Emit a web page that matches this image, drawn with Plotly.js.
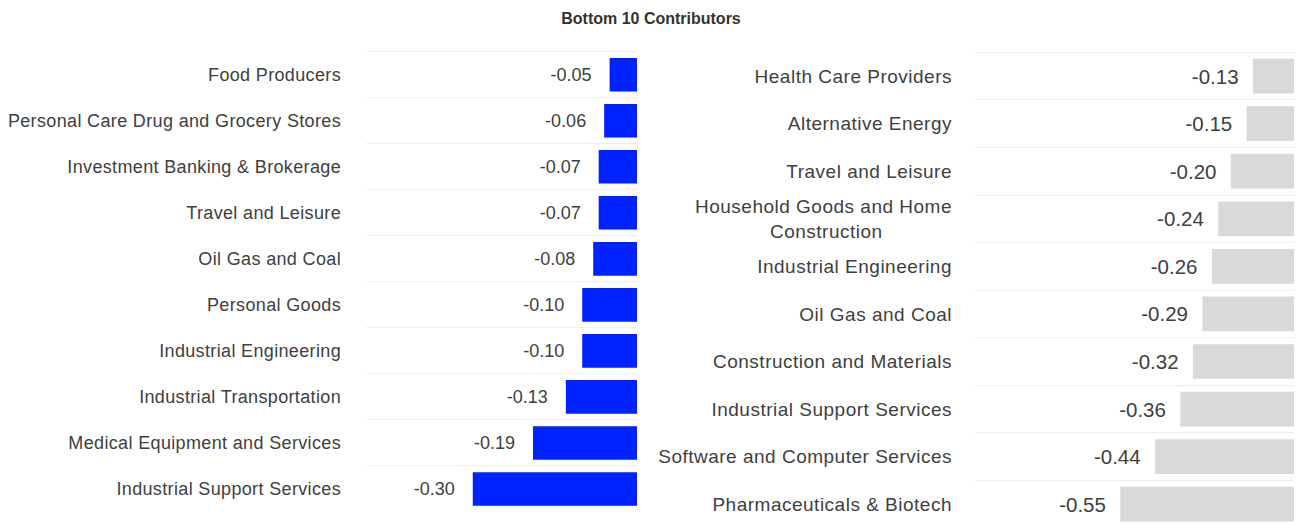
<!DOCTYPE html>
<html>
<head>
<meta charset="utf-8">
<script src="https://cdn.plot.ly/plotly-3.0.1.min.js"></script>
<style>
html,body{margin:0;padding:0;background:#fff;}
#chart{width:1302px;height:523px;}
#chart g.ytick text{letter-spacing:0.35px;}
#chart g.y2tick text{letter-spacing:0.5px;}
</style>
</head>
<body>
<div id="chart"></div>
<script>
const chartTitle = 'Bottom 10 Contributors';

const leftCategories = [
  'Food Producers',
  'Personal Care Drug and Grocery Stores',
  'Investment Banking & Brokerage',
  'Travel and Leisure',
  'Oil Gas and Coal',
  'Personal Goods',
  'Industrial Engineering',
  'Industrial Transportation',
  'Medical Equipment and Services',
  'Industrial Support Services'
];
const leftValues = [-0.05, -0.06, -0.07, -0.07, -0.08, -0.10, -0.10, -0.13, -0.19, -0.30];

const rightCategories = [
  'Health Care Providers',
  'Alternative Energy',
  'Travel and Leisure',
  'Household Goods and Home<br>Construction',
  'Industrial Engineering',
  'Oil Gas and Coal',
  'Construction and Materials',
  'Industrial Support Services',
  'Software and Computer Services',
  'Pharmaceuticals & Biotech'
];
const rightValues = [-0.13, -0.15, -0.20, -0.24, -0.26, -0.29, -0.32, -0.36, -0.44, -0.55];

const FONT = 'Liberation Sans, Arial, sans-serif';
const LEFT_LABEL_SIZE = 18, RIGHT_LABEL_SIZE = 19;
const NB = '\u00a0';

// center the lines of a multi-line tick label (plotly right-aligns them) by padding shorter lines
function centerLines(label, size, spacing) {
  if (label.indexOf('<br>') < 0) return label;
  const ctx = document.createElement('canvas').getContext('2d');
  ctx.font = size + 'px ' + FONT;
  const w = s => ctx.measureText(s).width + spacing * s.length;
  const lines = label.split('<br>');
  const maxW = Math.max(...lines.map(w));
  const nbW = w(NB);
  return lines.map(l => l + NB.repeat(Math.max(0, Math.round((maxW - w(l)) / 2 / nbW)))).join('<br>');
}

const traces = [
  {
    type: 'bar', orientation: 'h',
    x: leftValues, y: leftCategories,
    text: leftValues.map(v => v.toFixed(2) + NB + NB + NB), textposition: 'outside', cliponaxis: false,
    textfont: {family: FONT, size: 18, color: '#404040'},
    marker: {color: '#0022ff'},
    xaxis: 'x', yaxis: 'y', hoverinfo: 'skip'
  },
  {
    type: 'bar', orientation: 'h',
    x: rightValues, y: rightCategories,
    text: rightValues.map(v => v.toFixed(2) + NB + NB), textposition: 'outside', cliponaxis: false,
    textfont: {family: FONT, size: 20.5, color: '#404040'},
    marker: {color: '#d9d9d9'},
    xaxis: 'x2', yaxis: 'y2', hoverinfo: 'skip'
  }
];

const H = 523, W = 1302;
const layout = {
  width: W, height: H,
  margin: {l: 0, r: 0, t: 0, b: 0},
  paper_bgcolor: '#fff', plot_bgcolor: '#fff',
  showlegend: false,
  bargap: 0.27,
  font: {family: FONT, color: '#404040'},
  title: {text: '<b>' + chartTitle + '</b>', x: 0.5, xanchor: 'center', y: 1 - 18 / H, yanchor: 'middle', yref: 'paper',
          font: {family: FONT, size: 16, color: '#333'}},
  xaxis: {domain: [366 / W, 637 / W], range: [-0.495, 0], showgrid: false, zeroline: false, showticklabels: false, ticks: '', anchor: 'y'},
  yaxis: {domain: [1 - 514.3 / H, 1 - 49.4 / H], type: 'category', categoryorder: 'array', categoryarray: leftCategories,
          range: [9.55, -0.55], tickson: 'boundaries', showgrid: true, gridcolor: '#eeeeee', gridwidth: 1, zeroline: false, ticks: '',
          ticklabelstandoff: 24, tickfont: {family: FONT, size: LEFT_LABEL_SIZE, color: '#404040'}, anchor: 'x'},
  xaxis2: {domain: [975 / W, 1294 / W], range: [-1.01, 0], showgrid: false, zeroline: false, showticklabels: false, ticks: '', anchor: 'y2'},
  yaxis2: {domain: [0, 1 - 49.92 / H], type: 'category', categoryorder: 'array', categoryarray: rightCategories,
           tickmode: 'array', tickvals: rightCategories, ticktext: rightCategories.map(c => centerLines(c, RIGHT_LABEL_SIZE, 0.5)),
           range: [9.395, -0.55], tickson: 'boundaries', showgrid: true, gridcolor: '#eeeeee', gridwidth: 1, zeroline: false, ticks: '',
           ticklabelstandoff: 22, tickfont: {family: FONT, size: RIGHT_LABEL_SIZE, color: '#404040'}, anchor: 'x2'}
};

Plotly.newPlot('chart', traces, layout, {displayModeBar: false, staticPlot: true});
</script>
</body>
</html>
